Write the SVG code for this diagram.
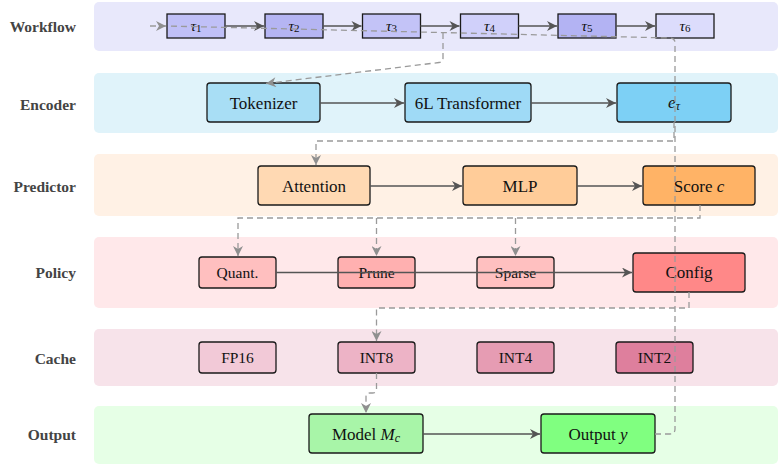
<svg xmlns="http://www.w3.org/2000/svg" width="779" height="466" viewBox="0 0 779 466">
<defs>
<style>
.band{stroke:none}
.lbl{font-family:"Liberation Serif","Times New Roman",serif;font-weight:bold;font-size:15.5px;fill:#444;text-anchor:end;dominant-baseline:central}
.box{stroke:#1a1a1a;stroke-width:1.3}
.t{font-family:"Liberation Serif","Times New Roman",serif;font-size:17px;fill:#111;text-anchor:middle;dominant-baseline:central}
.ts{font-family:"Liberation Serif","Times New Roman",serif;font-size:15.5px;fill:#111;text-anchor:middle;dominant-baseline:central}
.tw{font-family:"Liberation Serif","Times New Roman",serif;font-size:15.5px;fill:#111;text-anchor:middle;dominant-baseline:central}
.sol{fill:none;stroke:#555;stroke-width:1.5;marker-end:url(#ah)}
.dsh{fill:none;stroke:#9a9a9a;stroke-width:1.3;stroke-dasharray:6 4}
.dsha{fill:none;stroke:#9a9a9a;stroke-width:1.3;stroke-dasharray:6 4;marker-end:url(#ahg)}
</style>
<marker id="ah" viewBox="0 0 10 10" refX="10" refY="5" markerWidth="12" markerHeight="10" orient="auto" markerUnits="userSpaceOnUse"><path d="M0,0 L10,5 L0,10 L3,5 Z" fill="#555"/></marker>
<marker id="ahg" viewBox="0 0 10 10" refX="10" refY="5" markerWidth="12" markerHeight="10" orient="auto" markerUnits="userSpaceOnUse"><path d="M0,0 L10,5 L0,10 L3,5 Z" fill="#8f8f8f"/></marker>
</defs>
<rect width="779" height="466" fill="#ffffff"/>
<g id="bands">
<rect class="band" x="94" y="2" width="684" height="49" rx="5" fill="#E8E8FB"/>
<rect class="band" x="94" y="73" width="684" height="60" rx="5" fill="#E0F3FA"/>
<rect class="band" x="94" y="154" width="684" height="62" rx="5" fill="#FFF1E5"/>
<rect class="band" x="94" y="237" width="684" height="71" rx="5" fill="#FFE8EA"/>
<rect class="band" x="94" y="329" width="684" height="57" rx="5" fill="#F7E3EA"/>
<rect class="band" x="94" y="406" width="684" height="58" rx="5" fill="#E6FFE6"/>
</g>
<g id="labels">
<text class="lbl" x="76" y="26">Workflow</text>
<text class="lbl" x="76" y="104">Encoder</text>
<text class="lbl" x="76" y="186">Predictor</text>
<text class="lbl" x="76" y="272">Policy</text>
<text class="lbl" x="76" y="358">Cache</text>
<text class="lbl" x="76" y="434">Output</text>
</g>
<g id="t1"><rect class="box" x="167" y="14" width="58" height="24" fill="#C0C0F7"/><text class="tw" x="196" y="25"><tspan font-style="italic">τ</tspan><tspan font-size="11" dy="3">1</tspan></text></g>
<g id="t2"><rect class="box" x="265" y="14" width="58" height="24" fill="#B5B5F3"/><text class="tw" x="294" y="25"><tspan font-style="italic">τ</tspan><tspan font-size="11" dy="3">2</tspan></text></g>
<g id="t3"><rect class="box" x="362.5" y="14" width="58" height="24" fill="#C3C3F7"/><text class="tw" x="391.5" y="25"><tspan font-style="italic">τ</tspan><tspan font-size="11" dy="3">3</tspan></text></g>
<g id="t4"><rect class="box" x="460.5" y="14" width="58" height="24" fill="#D0D0FA"/><text class="tw" x="489.5" y="25"><tspan font-style="italic">τ</tspan><tspan font-size="11" dy="3">4</tspan></text></g>
<g id="t5"><rect class="box" x="558" y="14" width="58" height="24" fill="#B3B3F3"/><text class="tw" x="587" y="25"><tspan font-style="italic">τ</tspan><tspan font-size="11" dy="3">5</tspan></text></g>
<g id="t6"><rect class="box" x="656" y="14" width="58" height="24" fill="#DCDCFC"/><text class="tw" x="685" y="25"><tspan font-style="italic">τ</tspan><tspan font-size="11" dy="3">6</tspan></text></g>
<g id="tokenizer"><rect class="box" x="207" y="83" width="113" height="39" rx="3" fill="#A8DEF5"/><text class="t" x="263.5" y="103">Tokenizer</text></g>
<g id="transformer"><rect class="box" x="405" y="83" width="126" height="39" rx="3" fill="#9FDAF6"/><text class="t" x="468" y="103">6L Transformer</text></g>
<g id="etau"><rect class="box" x="617" y="83" width="114" height="39" rx="3" fill="#7DD0F5"/><text class="t" x="674" y="102"><tspan font-style="italic">e</tspan><tspan font-style="italic" font-size="12" dy="4">τ</tspan></text></g>
<g id="attention"><rect class="box" x="258" y="166" width="112" height="39" rx="3" fill="#FFD9B3"/><text class="t" x="314" y="186">Attention</text></g>
<g id="mlp"><rect class="box" x="463" y="166" width="114" height="39" rx="3" fill="#FFCC99"/><text class="t" x="520" y="186">MLP</text></g>
<g id="score"><rect class="box" x="643" y="166" width="112" height="39" rx="3" fill="#FFB366"/><text class="t" x="699" y="186">Score <tspan font-style="italic">c</tspan></text></g>
<g id="quant"><rect class="box" x="199" y="257" width="77" height="31" rx="3" fill="#FFBFBF"/><text class="ts" x="237.5" y="272.5">Quant.</text></g>
<g id="prune"><rect class="box" x="338" y="257" width="77" height="31" rx="3" fill="#FFB0B0"/><text class="ts" x="376.5" y="272.5">Prune</text></g>
<g id="sparse"><rect class="box" x="477" y="257" width="77" height="31" rx="3" fill="#FFC0C0"/><text class="ts" x="515.5" y="272.5">Sparse</text></g>
<g id="config"><rect class="box" x="633" y="253" width="112" height="39" rx="3" fill="#FF8888"/><text class="t" x="689" y="272.5">Config</text></g>
<g id="fp16"><rect class="box" x="199" y="342" width="77" height="31" rx="3" fill="#F2C9D7"/><text class="ts" x="237.5" y="357.5">FP16</text></g>
<g id="int8"><rect class="box" x="338" y="342" width="77" height="31" rx="3" fill="#EDB3C6"/><text class="ts" x="376.5" y="357.5">INT8</text></g>
<g id="int4"><rect class="box" x="477" y="342" width="77" height="31" rx="3" fill="#E69CB3"/><text class="ts" x="515.5" y="357.5">INT4</text></g>
<g id="int2"><rect class="box" x="616" y="342" width="77" height="31" rx="3" fill="#DE7F9D"/><text class="ts" x="654.5" y="357.5">INT2</text></g>
<g id="model"><rect class="box" x="309" y="414" width="114" height="39" rx="3" fill="#A8F5A8"/><text class="t" x="366" y="434">Model <tspan font-style="italic">M</tspan><tspan font-style="italic" font-size="12" dy="4">c</tspan></text></g>
<g id="output"><rect class="box" x="541" y="414" width="114" height="39" rx="3" fill="#80FF80"/><text class="t" x="598" y="434">Output <tspan font-style="italic">y</tspan></text></g>
<g id="connectors">
<path class="sol" d="M225,26 H264"/>
<path class="sol" d="M323,26 H361.5"/>
<path class="sol" d="M420.5,26 H459.5"/>
<path class="sol" d="M518.5,26 H557"/>
<path class="sol" d="M616,26 H655"/>
<path class="sol" d="M320,103 H404"/>
<path class="sol" d="M531,103 H616"/>
<path class="sol" d="M370,186 H462"/>
<path class="sol" d="M577,186 H642"/>
<path class="sol" d="M276,272.5 H632"/>
<path class="sol" d="M423,434 H540"/>
<path class="dsha" d="M150,26 H166"/>
<path class="dsh" d="M655,434 H670 Q675,434 675,429 V43 Q675,38 670,38 L167,26"/>
<path class="dsha" d="M443,33 V58 Q443,62 439,62.5 L266,83.5"/>
<path class="dsha" d="M674,122 V141 H316 V165"/>
<path class="dsha" d="M700,205 V218 H238 V256"/>
<path class="dsha" d="M376.5,218 V256"/>
<path class="dsha" d="M515.5,218 V256"/>
<path class="dsha" d="M689,292 V308 H376.5 V341"/>
<path class="dsha" d="M376.5,373 V389 Q376.5,393 372.5,393 H370 Q366,393 366,397 V413"/>
</g>
</svg>
